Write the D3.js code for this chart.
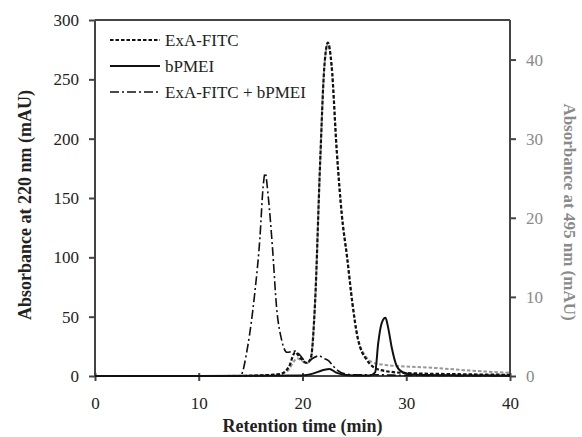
<!DOCTYPE html>
<html lang="en">
  <head>
    <meta charset="UTF-8" />
    <title>Retention chart</title>
    <script src="https://d3js.org/d3.v7.min.js"></script>
    <style>
      body { margin: 0; background: #fff; }
    </style>
  </head>
  <body>
    <div id="chart"></div>
    <script>
      // ExA-FITC at 220 nm (left axis)
      const exaTime = [0, 5, 10, 14, 16, 17, 18, 18.7, 19.3, 19.8, 20.4, 20.8, 21.2, 21.7, 22.1, 22.45, 22.8, 23.3, 23.8, 24.3, 24.8, 25.3, 26.2, 27.5, 30, 35, 40];
      const exaVal = [0, 0, 0, 0, 0.5, 1, 2, 8, 20, 15, 11, 15, 60, 180, 260, 281, 262, 190, 135, 100, 62, 33, 13.5, 5, 2.5, 1.5, 1];

      // ExA-FITC at 495 nm (right axis, gray)
      const exa495Time = [0, 10, 17, 18.5, 19.5, 20.4, 20.8, 21.2, 21.7, 22.1, 22.45, 22.8, 23.3, 23.8, 24.3, 24.8, 25.3, 26.2, 27, 28, 30, 33, 36, 40];
      const exa495Val = [0, 0, 0.1, 0.6, 2.2, 1.6, 2.2, 9, 27, 39, 42, 39.3, 28.5, 20.2, 15, 9.3, 5, 2.3, 1.6, 1.4, 1.2, 1.0, 0.7, 0.4];

      // bPMEI at 220 nm (left axis)
      const pmeiTime = [0, 10, 20, 21, 22, 22.6, 23.2, 24, 25, 26.5, 27, 27.3, 27.65, 28, 28.25, 28.6, 29.1, 29.7, 31, 35, 40];
      const pmeiVal = [0, 0, 0.5, 2, 5, 6, 3, 1, 0.5, 0.5, 3, 28, 45, 49, 41, 24, 8, 3, 1, 0.5, 0.3];

      // ExA-FITC + bPMEI at 220 nm (left axis)
      const mixTime = [0, 10, 14, 14.7, 15.4, 15.9, 16.2, 16.4, 16.7, 17.1, 17.5, 18, 18.5, 19.3, 19.9, 20.4, 21, 21.6, 22, 22.5, 23, 23.5, 24, 25, 27, 30, 40];
      const mixVal = [0, 0, 0, 24, 70, 117, 159, 171, 151, 109, 58, 30, 20, 21, 16, 11, 15, 17, 15, 13, 8, 4, 2, 1, 1, 0.5, 0.3];

      const xTicks = [0, 10, 20, 30, 40];
      const yLeftTicks = [0, 50, 100, 150, 200, 250, 300];
      const yRightTicks = [0, 10, 20, 30, 40];

      const legendItems = [
        { label: "ExA-FITC", dash: "3.5,2", width: 2.2 },
        { label: "bPMEI", dash: null, width: 2 },
        { label: "ExA-FITC + bPMEI", dash: "9,3,2,3", width: 1.6 },
      ];

      const serif = "'Liberation Serif', 'Times New Roman', 'DejaVu Serif', serif";

      const W = 582, H = 437;
      const margin = { top: 20, right: 72, bottom: 61, left: 95 };
      const width = W - margin.left - margin.right;
      const height = H - margin.top - margin.bottom;

      const svg = d3
        .select("#chart")
        .append("svg")
        .attr("width", W)
        .attr("height", H)
        .attr("font-family", serif);

      const g = svg
        .append("g")
        .attr("transform", "translate(" + margin.left + "," + margin.top + ")");

      const x = d3.scaleLinear().domain([0, 40]).range([0, width]);
      const yL = d3.scaleLinear().domain([0, 300]).range([height, 0]);
      const yR = d3.scaleLinear().domain([0, 45]).range([height, 0]);

      const axisColor = "#444";
      const grayColor = "#8a8a8a";

      // frame top line
      g.append("line")
        .attr("x1", 0).attr("x2", width)
        .attr("y1", 0).attr("y2", 0)
        .attr("stroke", axisColor).attr("stroke-width", 2);

      // axes
      const xAxis = g.append("g")
        .attr("transform", "translate(0," + height + ")")
        .call(d3.axisBottom(x).tickValues(xTicks).tickSize(5).tickPadding(16));
      xAxis.selectAll(".tick line").attr("y1", -3);

      const leftAxis = g.append("g")
        .call(d3.axisLeft(yL).tickValues(yLeftTicks).tickSize(6).tickPadding(10));

      const rightAxis = g.append("g")
        .attr("transform", "translate(" + width + ",0)")
        .call(d3.axisRight(yR).tickValues(yRightTicks).tickSize(6).tickPadding(10));

      [xAxis, leftAxis, rightAxis].forEach((a) => {
        a.attr("font-family", serif).attr("font-size", 17);
        a.select(".domain").attr("stroke", axisColor).attr("stroke-width", 2);
        a.selectAll(".tick line").attr("stroke", axisColor).attr("stroke-width", 2);
        a.selectAll(".tick text").attr("fill", "#222");
      });
      rightAxis.selectAll(".tick text").attr("fill", grayColor);
      xAxis.select(".domain").attr("d", "M0,0H" + width);
      leftAxis.select(".domain").attr("d", "M0,0V" + height);
      rightAxis.select(".domain").attr("d", "M0,0V" + height);

      // lines
      const lineL = d3.line()
        .x((d) => x(d[0]))
        .y((d) => yL(d[1]))
        .curve(d3.curveMonotoneX);
      const lineR = d3.line()
        .x((d) => x(d[0]))
        .y((d) => yR(d[1]))
        .curve(d3.curveMonotoneX);

      const zip = (a, b) => a.map((t, i) => [t, b[i]]);

      g.append("path")
        .datum(zip(exa495Time, exa495Val))
        .attr("d", lineR)
        .attr("fill", "none")
        .attr("stroke", "#999")
        .attr("stroke-width", 2)
        .attr("stroke-dasharray", "3.5,2");

      g.append("path")
        .datum(zip(exaTime, exaVal))
        .attr("d", lineL)
        .attr("fill", "none")
        .attr("stroke", "#111")
        .attr("stroke-width", 2.2)
        .attr("stroke-dasharray", "3.5,2");

      g.append("path")
        .datum(zip(pmeiTime, pmeiVal))
        .attr("d", lineL)
        .attr("fill", "none")
        .attr("stroke", "#111")
        .attr("stroke-width", 2);

      g.append("path")
        .datum(zip(mixTime, mixVal))
        .attr("d", lineL)
        .attr("fill", "none")
        .attr("stroke", "#111")
        .attr("stroke-width", 1.6)
        .attr("stroke-dasharray", "9,3,2,3");

      // legend
      const legend = g.append("g").attr("transform", "translate(15,20)");
      legendItems.forEach((item, i) => {
        const row = legend.append("g").attr("transform", "translate(0," + i * 26 + ")");
        row.append("line")
          .attr("x1", 0).attr("x2", 50)
          .attr("y1", 0).attr("y2", 0)
          .attr("stroke", "#111")
          .attr("stroke-width", item.width)
          .attr("stroke-dasharray", item.dash);
        row.append("text")
          .attr("x", 55)
          .attr("y", 6)
          .attr("font-size", 17)
          .attr("fill", "#222")
          .text(item.label);
      });

      // axis titles
      svg.append("text")
        .attr("transform", "translate(31,205) rotate(-90)")
        .attr("text-anchor", "middle")
        .attr("font-size", 18)
        .attr("font-weight", "bold")
        .attr("fill", "#222")
        .text("Absorbance at 220 nm (mAU)");

      svg.append("text")
        .attr("transform", "translate(564,212) rotate(90)")
        .attr("text-anchor", "middle")
        .attr("font-size", 17)
        .attr("font-weight", "bold")
        .attr("fill", grayColor)
        .text("Absorbance at 495 nm (mAU)");

      svg.append("text")
        .attr("x", margin.left + width / 2)
        .attr("y", 432)
        .attr("text-anchor", "middle")
        .attr("font-size", 18)
        .attr("font-weight", "bold")
        .attr("fill", "#222")
        .text("Retention time (min)");
    </script>
  </body>
</html>
